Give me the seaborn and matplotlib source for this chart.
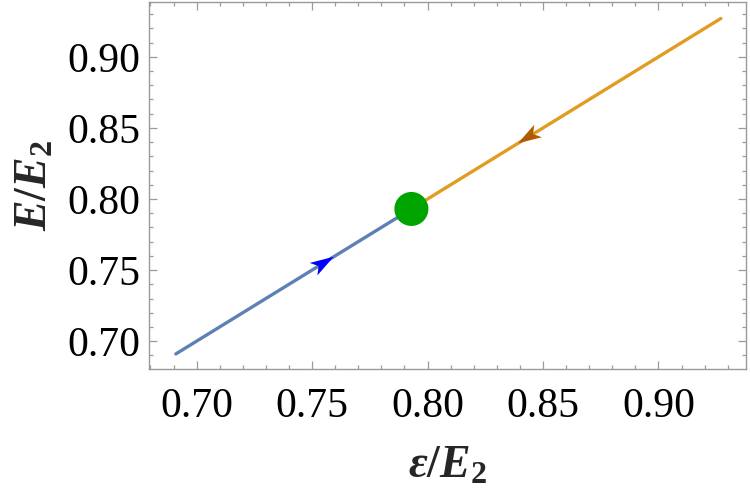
import matplotlib
matplotlib.use("Agg")
import numpy as np
import matplotlib.pyplot as plt
import seaborn as sns
import pandas as pd
from matplotlib.ticker import MultipleLocator, FormatStrFormatter
from matplotlib.path import Path
from matplotlib.markers import MarkerStyle
from matplotlib.transforms import Affine2D

# ---- data ----
blue_x = [0.691, 0.793]
blue_y = [0.691, 0.793]
orange_x = [0.793, 0.927]
orange_y = [0.793, 0.927]
fixed_x = [0.793]
fixed_y = [0.793]
arrow_x = [0.755, 0.8435]          # arrowhead centres (on y = x)
arrow_dir = [1, -1]                # +1 up-right, -1 down-left
arrow_colors = ["#0000FF", "#B25A00"]
xticks = [0.70, 0.75, 0.80, 0.85, 0.90]
yticks = [0.70, 0.75, 0.80, 0.85, 0.90]

sns.set_style("ticks")
plt.rcParams["font.family"] = ["Liberation Serif", "DejaVu Serif"]
plt.rcParams["mathtext.fontset"] = "custom"
plt.rcParams["mathtext.rm"] = "Liberation Serif:bold"
plt.rcParams["mathtext.it"] = "Liberation Serif:italic:bold"
plt.rcParams["mathtext.bf"] = "Liberation Serif:bold"

fig = plt.figure(figsize=(7.5, 4.94), dpi=100)
ax = fig.add_axes([0.1987, 0.253, 0.796, 0.743])

df_b = pd.DataFrame({"x": blue_x, "y": blue_y})
df_o = pd.DataFrame({"x": orange_x, "y": orange_y})
sns.lineplot(data=df_b, x="x", y="y", ax=ax, color="#5E81B5", lw=2.4, sort=False)
sns.lineplot(data=df_o, x="x", y="y", ax=ax, color="#E19C24", lw=2.4, sort=False)

ax.set_xlim(0.6794, 0.9379)
ax.set_ylim(0.6804, 0.9386)

# barbed arrowhead marker (pointing along +x)
head = Path([(1, 0), (-1, 0.62), (-0.5, 0), (-1, -0.62), (1, 0)],
            [Path.MOVETO, Path.LINETO, Path.LINETO, Path.LINETO, Path.CLOSEPOLY])
for xv, d, c in zip(arrow_x, arrow_dir, arrow_colors):
    p0 = ax.transData.transform((xv, xv))
    p1 = ax.transData.transform((xv + 0.01 * d, xv + 0.01 * d))
    ang = np.degrees(np.arctan2(p1[1] - p0[1], p1[0] - p0[0]))
    m = MarkerStyle(head, transform=Affine2D().rotate_deg(ang))
    ax.scatter([xv], [xv], marker=m, s=17 ** 2, color=c, edgecolor="none",
               zorder=4)

sns.scatterplot(x=fixed_x, y=fixed_y, ax=ax, color="#00A400", s=600,
                edgecolor="none", zorder=5)

ax.set_xticks(xticks)
ax.set_yticks(yticks)
ax.xaxis.set_major_formatter(FormatStrFormatter("%.2f"))
ax.yaxis.set_major_formatter(FormatStrFormatter("%.2f"))
ax.xaxis.set_minor_locator(MultipleLocator(0.01))
ax.yaxis.set_minor_locator(MultipleLocator(0.01))

frame_c = "#9a9a9a"
for s in ax.spines.values():
    s.set_color(frame_c)
    s.set_linewidth(1.0)
ax.tick_params(which="both", direction="in", top=True, right=True,
               color=frame_c, width=0.9, labelsize=30, labelcolor="black")
ax.tick_params(which="major", length=5.5)
ax.tick_params(which="minor", length=3.2)
ax.tick_params(axis="x", which="major", pad=13)
ax.tick_params(axis="y", which="major", pad=6)

ax.set_xlabel(r"$\varepsilon/E_2$", fontsize=33, labelpad=14)
ax.set_ylabel(r"$E/E_2$", fontsize=33, labelpad=8)

fig.savefig("out.png", dpi=100)
